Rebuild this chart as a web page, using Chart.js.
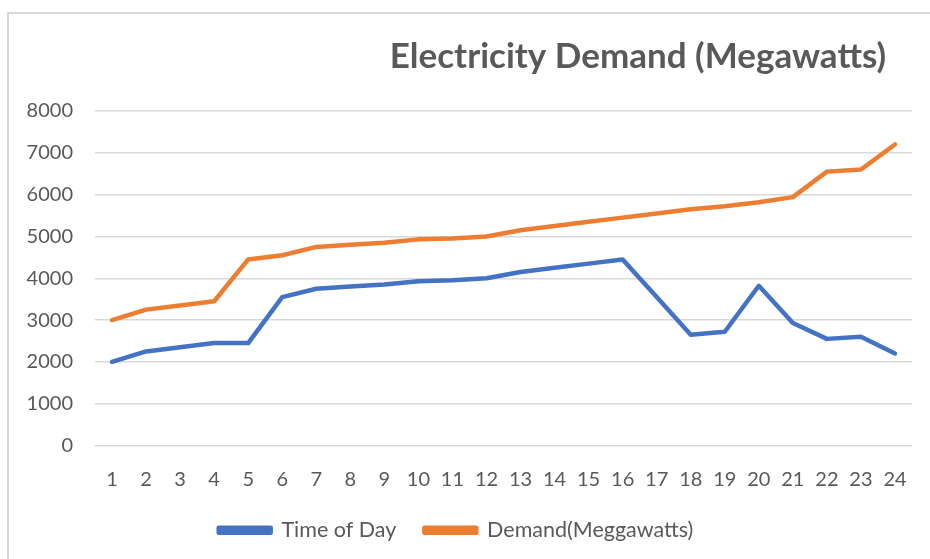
<!DOCTYPE html>
<html>
<head>
<meta charset="utf-8">
<script src="https://cdn.jsdelivr.net/npm/chart.js@4/dist/chart.umd.min.js"></script>
<style>
    html, body { margin: 0; padding: 0; background: #fff; }
    #wrap { position: relative; width: 930px; height: 559px; overflow: hidden; }
    #frame { position: absolute; left: 7px; top: 12px; width: 940px; height: 560px;
             border-left: 2px solid #d9d9d9; border-top: 2px solid #d9d9d9; }
    #chart { position: absolute; left: 0; top: 0; }
</style>
</head>
<body>
<div id="wrap">
    <div id="frame"></div>
    <canvas id="chart" width="930" height="559"></canvas>
</div>
<script>
// chart data
const hours = ['1','2','3','4','5','6','7','8','9','10','11','12','13','14','15','16','17','18','19','20','21','22','23','24'];
const timeOfDay = [2000, 2250, 2350, 2450, 2450, 3550, 3750, 3800, 3850, 3930, 3950, 4000,
                   4150, 4250, 4350, 4450, 3550, 2650, 2720, 3820, 2930, 2550, 2600, 2200];
const demand = [3000, 3250, 3350, 3450, 4450, 4550, 4750, 4800, 4850, 4930, 4950, 5000,
                5150, 5250, 5350, 5450, 5550, 5650, 5720, 5820, 5940, 6550, 6600, 7200];
const yTicks = [0, 1000, 2000, 3000, 4000, 5000, 6000, 7000, 8000];

const chartTitle = 'Electricity Demand (Megawatts)';
const textColor = '#595959';
const gridColor = '#d9d9d9';
const fontFamily = 'Lato, "Open Sans", sans-serif';

// title sits right of centre, so draw it ourselves
const titlePlugin = {
    id: 'sideTitle',
    afterDraw(chart) {
        const ctx = chart.ctx;
        ctx.save();
        ctx.font = `bold 35px ${fontFamily}`;
        ctx.fillStyle = textColor;
        ctx.textAlign = 'center';
        ctx.textBaseline = 'middle';
        ctx.fillText(chartTitle, 638, 57);
        ctx.restore();
    }
};

const ctx = document.getElementById('chart');
new Chart(ctx, {
    type: 'line',
    data: {
        labels: hours,
        datasets: [{
            label: 'Time of Day',
            data: timeOfDay,
            borderColor: '#4472c4',
            backgroundColor: '#4472c4',
            borderWidth: 4.5,
            pointRadius: 0,
            tension: 0,
            borderCapStyle: 'round',
            borderJoinStyle: 'round'
        }, {
            label: 'Demand(Meggawatts)',
            data: demand,
            borderColor: '#ed7d31',
            backgroundColor: '#ed7d31',
            borderWidth: 4.5,
            pointRadius: 0,
            tension: 0,
            borderCapStyle: 'round',
            borderJoinStyle: 'round'
        }]
    },
    options: {
        responsive: false,
        animation: false,
        layout: { padding: { top: 111, right: 18, bottom: 8, left: 0 } },
        plugins: {
            title: { display: false },
            tooltip: { enabled: false },
            legend: {
                position: 'bottom',
                labels: {
                    boxWidth: 52,
                    boxHeight: 5,
                    padding: 28,
                    color: textColor,
                    font: { family: fontFamily, size: 21.5 }
                }
            }
        },
        scales: {
            x: {
                offset: true,
                grid: { display: false },
                border: { display: false },
                ticks: {
                    color: textColor,
                    padding: 14,
                    maxRotation: 0,
                    autoSkip: false,
                    font: { family: fontFamily, size: 20 }
                },
                afterFit: s => { s.height = 46; }
            },
            y: {
                min: 0,
                max: 8000,
                afterBuildTicks: s => { s.ticks = yTicks.map(v => ({ value: v })); },
                grid: { color: gridColor, lineWidth: 1.5, drawTicks: false },
                border: { display: false },
                ticks: {
                    color: textColor,
                    padding: 22,
                    font: { family: fontFamily, size: 20 },
                    callback: v => String(v)
                },
                afterFit: s => { s.width = 95; }
            }
        }
    },
    plugins: [titlePlugin]
});
</script>
</body>
</html>
